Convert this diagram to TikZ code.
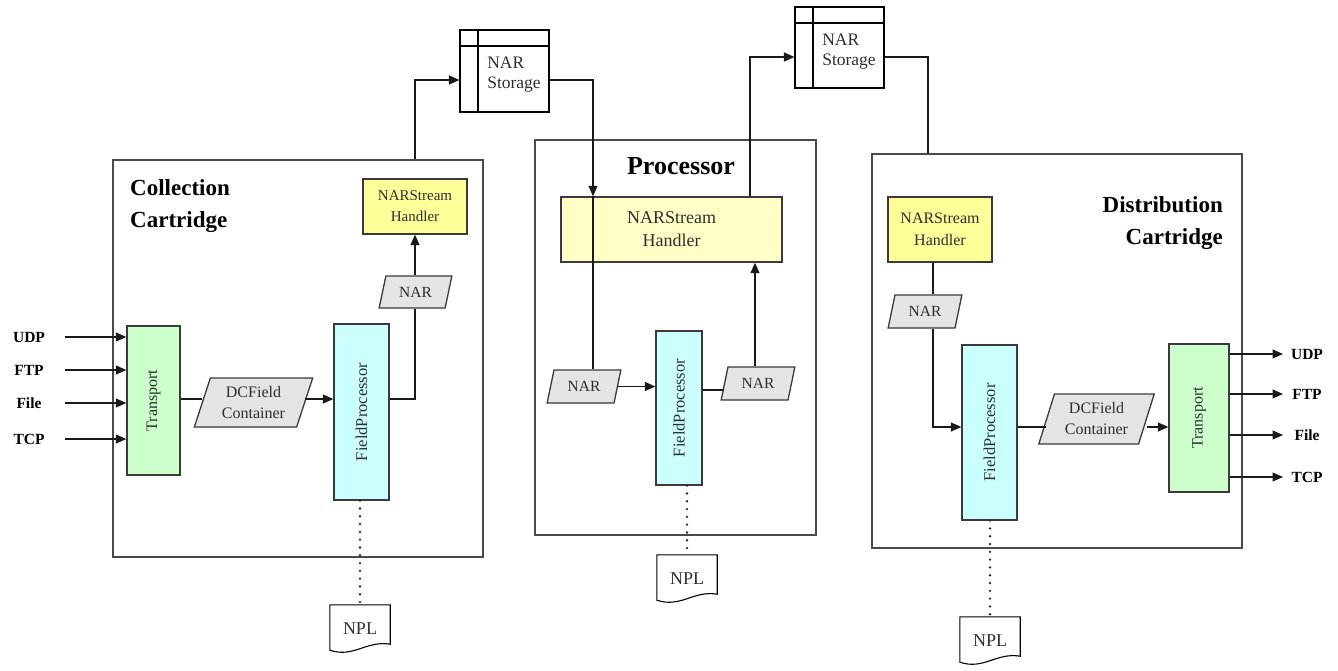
\documentclass[tikz,border=0pt]{standalone}
\usepackage{fontspec}
\setmainfont{Liberation Serif}
\usetikzlibrary{shapes.geometric,arrows.meta}

\definecolor{framegray}{HTML}{4A4A4A}
\definecolor{edgegray}{HTML}{3A3A3A}
\definecolor{txtgray}{HTML}{2E2E2E}
\definecolor{handyellow}{HTML}{FFFF99}
\definecolor{paleyellow}{HTML}{FFFFC6}
\definecolor{transgreen}{HTML}{CCFFCC}
\definecolor{fieldcyan}{HTML}{CCFFFF}
\definecolor{datagray}{HTML}{E4E4E4}

% outline of a flowchart "document" symbol around a node
\newcommand\docedge[1]{%
  \draw[docline] (#1.north west) -- (#1.north east) -- ([yshift=9pt]#1.south east)
    .. controls ([xshift=-24pt,yshift=13pt]#1.south east) and ([xshift=24pt,yshift=-5pt]#1.south west)
    .. ([yshift=3pt]#1.south west) -- cycle;}

\tikzset{
  base/.style={draw=edgegray, line width=1.3pt, text=txtgray, align=center,
    font=\fontsize{15}{21}\selectfont, inner sep=1pt},
  frame/.style={draw=framegray, line width=1.3pt, inner sep=0pt},
  handler/.style={base, fill=handyellow},
  transport/.style={base, fill=transgreen, font=\fontsize{16}{20}\selectfont},
  fieldproc/.style={base, fill=fieldcyan, font=\fontsize{16.5}{20}\selectfont},
  datum/.style={base, fill=datagray, trapezium, trapezium left angle=70,
    trapezium right angle=110, trapezium stretches=true, inner sep=0pt,
    font=\fontsize{15.5}{20}\selectfont},
  store/.style={draw=black, line width=1.1pt, fill=white, inner sep=0pt,
    minimum width=89pt,
    path picture={
      \draw[line width=1.1pt] ([xshift=18pt]path picture bounding box.north west)
        -- ([xshift=18pt]path picture bounding box.south west);
      \draw[line width=1.1pt] ([yshift=-16pt]path picture bounding box.north west)
        -- ([yshift=-16pt]path picture bounding box.north east);}},
  storetext/.style={text=txtgray, align=left, inner sep=0pt,
    font=\fontsize{17.5}{20}\selectfont},
  npl/.style={minimum width=60pt, minimum height=48pt, inner sep=0pt, text=txtgray,
    font=\fontsize{18}{20}\selectfont},
  docline/.style={draw=black, line width=1.1pt},
  title/.style={font=\bfseries\fontsize{23}{32}\selectfont, inner sep=0pt},
  port/.style={font=\bfseries\fontsize{15.5}{18}\selectfont, inner sep=0pt},
  link/.style={draw=black!90, line width=1.2pt},
  arr/.style={link, -{Triangle[length=10.5pt,width=9pt]}},
  dots/.style={draw=black!85, line width=2.6pt, line cap=round, dash pattern=on 0pt off 7.8pt}
}

\begin{document}
\begin{tikzpicture}[x=1pt,y=-1pt]
\useasboundingbox (0,0) rectangle (1338,670);

% ---------- containers ----------
\node[frame, minimum width=370pt, minimum height=397pt] (box1) at (298,358.5) {};
\node[frame, minimum width=281pt, minimum height=395pt] (box2) at (675.5,337.5) {};
\node[frame, minimum width=370pt, minimum height=394pt] (box3) at (1057,351) {};

\node[title, anchor=west, align=left] (t1) at (130,206) {Collection\\Cartridge};
\node[title, font=\bfseries\fontsize{26}{30}\selectfont] (t2) at (681,166) {Processor};
\node[title, anchor=east, align=right] (t3) at (1223,223) {Distribution\\Cartridge};

% ---------- storage ----------
\node[store, minimum height=82pt] (st1) at (504.5,71) {};
\node[storetext] (st1t) at (514,75) {NAR\\Storage};
\node[store, minimum height=81pt] (st2) at (839.5,47.5) {};
\node[storetext] (st2t) at (849,52) {NAR\\Storage};

% ---------- collection cartridge ----------
\node[handler, minimum width=104pt, minimum height=55pt] (h1) at (415,206.5) {NARStream\\Handler};
\node[datum, minimum width=73pt, minimum height=32pt] (nar1) at (415.5,292) {NAR};
\node[transport, minimum width=53pt, minimum height=149pt] (tr1) at (153.5,400.5) {\rotatebox{90}{Transport}};
\node[datum, minimum width=119pt, minimum height=49pt, font=\fontsize{16}{21}\selectfont] (dc1) at (253.5,402.5) {DCField\\Container};
\node[fieldproc, minimum width=55pt, minimum height=176pt] (fp1) at (361.5,412) {\rotatebox{90}{FieldProcessor}};
\node[npl] (npl1) at (360,629) {NPL};
\docedge{npl1}

% ---------- processor ----------
\node[base, fill=paleyellow, minimum width=221pt, minimum height=65pt,
  font=\fontsize{18}{23}\selectfont] (h2) at (671.5,229.5) {NARStream\\Handler};
\node[datum, minimum width=74pt, minimum height=33pt] (nar2a) at (584,386.5) {NAR};
\node[fieldproc, minimum width=46pt, minimum height=154pt] (fp2) at (679,408) {\rotatebox{90}{FieldProcessor}};
\node[datum, minimum width=74pt, minimum height=33pt] (nar2b) at (758,383.5) {NAR};
\node[npl] (npl2) at (687,579) {NPL};
\docedge{npl2}

% ---------- distribution cartridge ----------
\node[handler, minimum width=104pt, minimum height=65pt,
  font=\fontsize{16}{22}\selectfont] (h3) at (940,229.5) {NARStream\\Handler};
\node[datum, minimum width=74pt, minimum height=33pt] (nar3) at (925,311.5) {NAR};
\node[fieldproc, minimum width=55pt, minimum height=175pt] (fp3) at (989.5,432.5) {\rotatebox{90}{FieldProcessor}};
\node[datum, minimum width=116pt, minimum height=50pt, font=\fontsize{16}{21}\selectfont] (dc3) at (1096.5,419) {DCField\\Container};
\node[transport, minimum width=60pt, minimum height=148pt] (tr3) at (1199,418) {\rotatebox{90}{Transport}};
\node[npl] (npl3) at (990,641) {NPL};
\docedge{npl3}

% ---------- routing levels ----------
\coordinate (yA) at (0,80);
\coordinate (yB) at (0,57);
\coordinate (yC) at (0,399);
\coordinate (yD) at (0,390);
\coordinate (yE) at (0,427);
\coordinate (xA) at (593,0);
\coordinate (xB) at (750,0);
\coordinate (xC) at (755,0);
\coordinate (xD) at (928,0);
\coordinate (xE) at (933,0);

% ---------- collection inputs ----------
\foreach \lab/\yy/\k in {UDP/337/1, FTP/370/2, File/403/3, TCP/439/4}{
  \node[port] (in\k) at (29,\yy) {\lab};
  \coordinate (s\k) at (65,\yy);
  \draw[arr] (s\k) -- (s\k -| tr1.west);
}

% ---------- collection flow ----------
\draw[link] (tr1.east |- yC) -- (dc1.west |- yC);
\draw[arr] (dc1.east |- yC) -- (fp1.west |- yC);
\draw[link] (fp1.east |- yC) -| (h1.south |- nar1.south);
\draw[arr] (h1.south |- nar1.north) -- (h1.south);
\draw[arr] (h1.north |- box1.north) |- (st1.west |- yA);

% ---------- processor flow ----------
\draw[arr] (st1.east |- yA) -| (xA |- h2.north);
\draw[link] (xA |- h2.north) -- (xA |- nar2a.north);
\draw[arr] (nar2a.east) -- (nar2a.east -| fp2.west);
\draw[link] (fp2.east |- yD) -- (nar2b.west |- yD);
\draw[arr] (xC |- nar2b.north) -- (xC |- h2.south);
\draw[arr] (xB |- h2.north) |- (st2.west |- yB);

% ---------- distribution flow ----------
\draw[link] (st2.east |- yB) -| (xD |- box3.north);
\draw[link] (xE |- h3.south) -- (xE |- nar3.north);
\draw[arr] (xE |- nar3.south) |- (fp3.west |- yE);
\draw[link] (fp3.east |- yE) -- (dc3.west |- yE);
\draw[arr] (dc3.east |- yE) -- (tr3.west |- yE);

% ---------- distribution outputs ----------
\foreach \lab/\yy/\k in {UDP/354/1, FTP/394/2, File/435/3, TCP/477/4}{
  \coordinate (o\k) at (1283,\yy);
  \node[port] (out\k) at (1307,\yy) {\lab};
  \draw[arr] (tr3.east |- o\k) -- (o\k);
}

% ---------- NPL references ----------
\draw[dots] (npl1.north |- fp1.south) -- (npl1.north);
\draw[dots] (npl2.north |- fp2.south) -- (npl2.north);
\draw[dots] (npl3.north |- fp3.south) -- (npl3.north);
\end{tikzpicture}
\end{document}
